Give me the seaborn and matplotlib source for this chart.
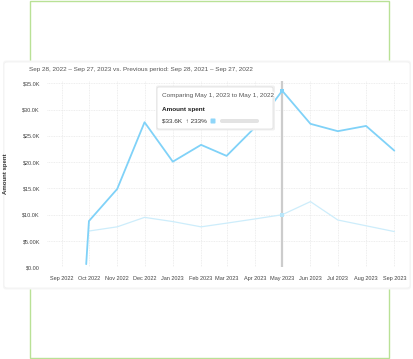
import pandas as pd
import seaborn as sns
import matplotlib.pyplot as plt
from matplotlib.patches import Rectangle, FancyBboxPatch, Polygon

# amount spent, in thousands of dollars
cur_dates = ['2022-09-28', '2022-10-01', '2022-11-01', '2022-12-01', '2023-01-01',
             '2023-02-01', '2023-03-01', '2023-04-01', '2023-05-01', '2023-06-01',
             '2023-07-01', '2023-08-01', '2023-09-01']
cur_spent = [0.6, 8.8, 14.9, 27.6, 20.1, 23.3, 21.2, 26.6, 33.6, 27.3, 25.9, 26.9, 22.2]

prev_dates = ['2022-10-01', '2022-11-01', '2022-12-01', '2023-01-01', '2023-02-01',
              '2023-03-01', '2023-04-01', '2023-05-01', '2023-06-01', '2023-07-01',
              '2023-08-01', '2023-09-01']
prev_spent = [6.9, 7.7, 9.5, 8.7, 7.7, 8.4, 9.2, 10.0, 12.5, 9.0, 7.9, 6.8]

tick_months = ['2022-09-01', '2022-10-01', '2022-11-01', '2022-12-01', '2023-01-01',
               '2023-02-01', '2023-03-01', '2023-04-01', '2023-05-01', '2023-06-01',
               '2023-07-01', '2023-08-01', '2023-09-01']
tick_labels = ['Sep 2022', 'Oct 2022', 'Nov 2022', 'Dec 2022', 'Jan 2023', 'Feb 2023',
               'Mar 2023', 'Apr 2023', 'May 2023', 'Jun 2023', 'Jul 2023', 'Aug 2023',
               'Sep 2023']
y_ticks = [0, 5, 10, 15, 20, 25, 30, 35]
y_labels = ['$0.00', '$5.00K', '$10.0K', '$15.0K', '$20.0K', '$25.0K', '$30.0K', '$35.0K']

hover_date = '2023-05-01'

sns.set_style('white')
plt.rcParams['font.family'] = ['Liberation Sans', 'DejaVu Sans']

W, H = 414, 359
def fx(x):
    return x / W
def fy(y):
    return 1 - y / H

fig = plt.figure(figsize=(W / 100, H / 100), dpi=100)

# green frame behind the card
fig.patches.append(Rectangle((fx(30.5), fy(357.5)), (389 - 30.5) / W, 357 / H,
                             transform=fig.transFigure, fill=False,
                             ec='#b9e196', lw=1, zorder=-3))
# card with faint shadow
fig.patches.append(FancyBboxPatch((fx(3), fy(289.5)), 408 / W, 229 / H,
                                  boxstyle='round,pad=0,rounding_size=0.008',
                                  transform=fig.transFigure, fc='#f6f6f6',
                                  ec='none', zorder=-2.5))
fig.patches.append(FancyBboxPatch((fx(4), fy(288)), 406 / W, 226 / H,
                                  boxstyle='round,pad=0,rounding_size=0.008',
                                  transform=fig.transFigure, fc='white',
                                  ec='#f2f2f2', lw=0.6, zorder=-2))

fig.text(fx(29), fy(70), 'Sep 28, 2022 – Sep 27, 2023 vs. Previous period: '
         'Sep 28, 2021 – Sep 27, 2022', fontsize=4.6, color='#555555', va='center')

ax = fig.add_axes([fx(47), fy(267.3), (408 - 47) / W, (267.3 - 81) / H])
ax.set_facecolor('none')

ax.axvline(pd.to_datetime(hover_date), color='#cccccc', lw=1.6, zorder=1)
sns.lineplot(x=pd.to_datetime(prev_dates), y=prev_spent, color='#cdedfb', lw=0.9, ax=ax, zorder=2)
sns.lineplot(x=pd.to_datetime(cur_dates), y=cur_spent, color='#80d2f8', lw=1.3, ax=ax, zorder=3)

hi_cur = cur_dates.index(hover_date)
hi_prev = prev_dates.index(hover_date)
sns.scatterplot(x=pd.to_datetime([cur_dates[hi_cur]]), y=[cur_spent[hi_cur]], marker='s',
                s=9, color='#80d2f8', edgecolor='none', ax=ax, zorder=4)
sns.scatterplot(x=pd.to_datetime([prev_dates[hi_prev]]), y=[prev_spent[hi_prev]], marker='s',
                s=7, color='#b8e6fa', edgecolor='none', ax=ax, zorder=4)

ax.set_xlim(pd.Timestamp('2022-08-16'), pd.Timestamp('2023-09-16'))
ax.set_ylim(0, 35.45)
ax.set_xticks(pd.to_datetime(tick_months))
ax.set_xticklabels(tick_labels)
ax.set_yticks(y_ticks)
ax.set_yticklabels(y_labels)
ax.tick_params(length=0, labelsize=4, colors='#444444')
ax.tick_params(axis='x', pad=6)
ax.tick_params(axis='y', pad=5)
ax.grid(True, color='#e8e8e8', lw=0.6, ls=(0, (1, 1)))
sns.despine(ax=ax, left=True, bottom=True)
ax.set_xlabel('')
ax.set_ylabel('Amount spent', fontsize=4.3, fontweight='bold', color='#333333')
ax.yaxis.set_label_coords((8 - 47) / 361, 0.5)

# hover tooltip
fig.patches.append(FancyBboxPatch((fx(156), fy(130.5)), 119 / W, 45 / H,
                                  boxstyle='round,pad=0,rounding_size=0.005',
                                  transform=fig.transFigure, fc='#f0f0f0',
                                  ec='none', zorder=5))
fig.patches.append(FancyBboxPatch((fx(157), fy(129)), 116 / W, 42 / H,
                                  boxstyle='round,pad=0,rounding_size=0.005',
                                  transform=fig.transFigure, fc='white',
                                  ec='#e0e0e0', lw=0.6, zorder=5.1))
fig.patches.append(Polygon([(fx(272.6), fy(91)), (fx(276.5), fy(94.5)), (fx(272.6), fy(98))],
                           closed=True, transform=fig.transFigure, fc='white',
                           ec='none', zorder=5.2))
fig.text(fx(162), fy(96), 'Comparing May 1, 2023 to May 1, 2022', fontsize=4.6,
         color='#555555', va='center', zorder=6)
fig.text(fx(162), fy(109.5), 'Amount spent', fontsize=4.6, fontweight='bold',
         color='#222222', va='center', zorder=6)
fig.text(fx(162), fy(121), '$33.6K  ↑ 233%', fontsize=4.6, color='#333333',
         va='center', zorder=6)
fig.patches.append(FancyBboxPatch((fx(210.5), fy(123.5)), 5 / W, 5 / H,
                                  boxstyle='round,pad=0,rounding_size=0.002',
                                  transform=fig.transFigure, fc='#8fd6f9',
                                  ec='none', zorder=6))
fig.patches.append(FancyBboxPatch((fx(220), fy(123)), 39 / W, 4 / H,
                                  boxstyle='round,pad=0,rounding_size=0.005',
                                  transform=fig.transFigure, fc='#e3e3e3',
                                  ec='none', zorder=6))

plt.savefig('out.png', dpi=100)
